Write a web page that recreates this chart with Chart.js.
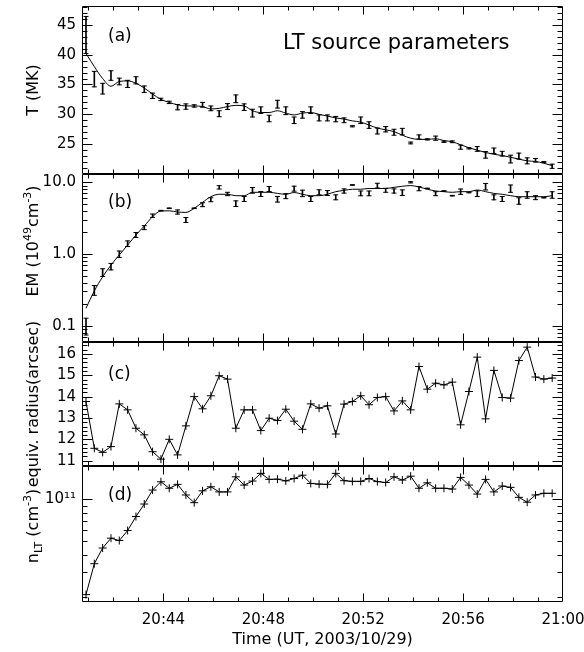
<!DOCTYPE html>
<html>
<head>
<meta charset="utf-8">
<script src="https://cdn.jsdelivr.net/npm/chart.js@4/dist/chart.umd.min.js"></script>
<style>
html,body{margin:0;padding:0;background:#fff;}
#wrap{position:relative;width:584px;height:652px;overflow:hidden;background:#fff;}
#wrap canvas{position:absolute;left:0;top:0;}
</style>
</head>
<body>
<div id="wrap">
<canvas id="cd" width="584" height="652"></canvas>
<canvas id="cc" width="584" height="652"></canvas>
<canvas id="cb" width="584" height="652"></canvas>
<canvas id="ca" width="584" height="652"></canvas>
</div>
<script>
// ---------- data ----------
const times = ['20:40:54','20:41:14','20:41:34','20:41:54','20:42:14','20:42:34','20:42:54','20:43:14','20:43:34','20:43:54',
 '20:44:14','20:44:34','20:44:54','20:45:14','20:45:34','20:45:54','20:46:14','20:46:34','20:46:54','20:47:14',
 '20:47:34','20:47:54','20:48:14','20:48:34','20:48:54','20:49:14','20:49:34','20:49:54','20:50:14','20:50:34',
 '20:50:54','20:51:14','20:51:34','20:51:54','20:52:14','20:52:34','20:52:54','20:53:14','20:53:34','20:53:54',
 '20:54:14','20:54:34','20:54:54','20:55:14','20:55:34','20:55:54','20:56:14','20:56:34','20:56:54','20:57:14',
 '20:57:34','20:57:54','20:58:14','20:58:34','20:58:54','20:59:14','20:59:34'];

// (a) temperature, MK
const tempVal = [43.3,35.9,34.3,36.5,35.5,35.1,35.7,34.2,33.1,32.5,
 32.0,31.2,31.3,31.4,31.6,31.0,30.1,31.3,32.6,31.2,
 30.2,30.7,29.3,31.7,30.6,29.0,29.9,30.7,29.4,29.4,
 29.2,29.0,28.0,29.0,28.2,27.2,27.5,27.0,27.1,25.2,
 26.2,25.8,26.0,25.4,25.4,24.5,24.3,24.2,23.2,23.9,
 23.4,22.5,23.0,22.2,22.3,22.0,21.3];
const tempErr = [3.1,1.3,0.9,0.8,0.56,0.6,0.6,0.55,0.45,0.2,
 0.2,0.45,0.45,0.2,0.4,0.4,0.5,0.5,0.65,0.55,
 0.65,0.55,0.55,0.65,0.65,0.55,0.55,0.55,0.5,0.5,
 0.45,0.4,0.1,0.55,0.55,0.5,0.45,0.5,0.55,0.15,
 0.35,0.1,0.35,0.1,0.15,0.35,0.1,0.4,0.55,0.45,
 0.4,0.65,0.5,0.5,0.3,0.1,0.35];
const tempFit = [40.2,38.0,36.0,34.7,35.5,35.6,35.2,34.4,33.4,32.5,
 32.0,31.6,31.4,31.4,31.3,30.9,31.0,31.3,31.5,31.4,
 30.6,30.3,30.3,30.6,30.2,29.9,30.2,30.3,30.0,29.7,
 29.4,29.2,28.9,28.7,28.2,27.7,27.4,27.1,26.5,26.0,
 25.8,25.8,25.9,25.6,25.4,24.9,24.4,24.0,23.6,23.3,
 23.1,22.8,22.5,22.2,22.1,21.8,21.4];

// (b) emission measure, 1e49 cm^-3
const emVal = [0.097,0.31,0.55,0.665,0.99,1.39,1.84,2.33,3.42,4.02,
 4.34,3.85,2.98,4.34,4.87,5.71,8.5,6.87,5.03,5.85,
 7.73,6.87,8.06,5.8,6.4,8.15,7.0,5.85,7.25,7.08,
 6.17,7.56,9.17,7.0,7.0,8.97,7.73,7.56,7.16,10.0,
 8.15,8.2,6.93,7.56,6.5,7.39,7.2,6.93,8.68,6.17,
 5.85,8.15,5.48,6.65,6.1,6.1,6.65];
const emErr = [0.31,0.17,0.13,0.11,0.11,0.095,0.083,0.066,0.055,0.01,
 0.01,0.07,0.083,0.01,0.066,0.066,0.055,0.055,0.095,0.083,
 0.095,0.083,0.083,0.095,0.083,0.083,0.11,0.083,0.083,0.083,
 0.083,0.07,0.01,0.08,0.08,0.08,0.066,0.07,0.095,0.02,
 0.07,0.01,0.066,0.01,0.01,0.09,0.01,0.095,0.11,0.083,
 0.083,0.125,0.11,0.11,0.066,0.01,0.11];
const emFit = [0.175,0.305,0.48,0.70,0.97,1.33,1.84,2.45,3.31,3.98,
 4.0,3.85,3.8,4.34,5.25,6.3,6.8,6.8,6.5,6.5,
 7.25,7.25,7.25,7.0,6.8,7.2,6.8,6.5,6.5,6.8,
 7.4,7.7,8.0,8.0,8.2,8.2,8.2,8.5,8.8,9.0,
 8.6,8.0,7.56,7.4,7.25,7.4,7.4,7.8,7.4,7.0,
 6.8,6.5,6.3,6.3,6.3,6.3,6.5];

// (c) equivalent radius, arcsec
const radius = [13.77,11.58,11.39,11.66,13.66,13.38,12.52,12.21,11.42,11.07,
 12.0,11.27,12.63,14.0,13.43,14.04,14.98,14.82,12.52,13.38,
 13.38,12.41,12.99,12.88,13.41,12.85,12.47,13.66,13.46,13.57,
 12.25,13.65,13.77,14.04,13.62,13.96,14.0,13.33,13.80,13.38,
 15.41,14.35,14.63,14.55,14.68,12.68,14.24,15.85,12.96,15.23,
 13.96,13.93,15.69,16.32,14.92,14.82,14.87];

// (d) LT density, cm^-3
const density = [2.07e10,3.45e10,4.47e10,5.26e10,5.06e10,5.97e10,7.52e10,9.25e10,1.165e11,1.336e11,
 1.2e11,1.28e11,1.074e11,9.46e10,1.15e11,1.23e11,1.13e11,1.13e11,1.45e11,1.265e11,
 1.352e11,1.535e11,1.39e11,1.395e11,1.356e11,1.41e11,1.49e11,1.3e11,1.285e11,1.28e11,
 1.535e11,1.36e11,1.345e11,1.345e11,1.41e11,1.34e11,1.32e11,1.45e11,1.374e11,1.466e11,
 1.2e11,1.314e11,1.2e11,1.2e11,1.185e11,1.436e11,1.265e11,1.09e11,1.39e11,1.13e11,
 1.245e11,1.218e11,1.033e11,9.53e10,1.074e11,1.104e11,1.104e11];

// tick labels
const xTickLabels = ['20:44','20:48','20:52','20:56','21:00'];
const tTickLabels = ['25','30','35','40','45'];
const emTickLabels = ['0.1','1.0','10.0'];
const rTickLabels = ['11','12','13','14','15','16'];
const nTickValues = [1e11];
const nTickLabels = ['10\u00B9\u00B9'];

// ---------- helpers ----------
const FONT = '"DejaVu Sans", sans-serif';
Chart.defaults.font.family = FONT;
Chart.defaults.color = '#000';

const toMin = s => { const p = s.split(':').map(Number); return (p[0]-20)*60 + p[1] + (p[2]||0)/60; };
const tm = times.map(toMin);
const xMajor = xTickLabels.map(toMin);
const xy = arr => arr.map((v,i) => ({x: tm[i], y: v}));

function xTickList() {
  const out = [];
  for (let m = 41; m <= 59; m++) out.push([m, xMajor.includes(m)]);
  return out;
}
function linTicks(majors, min, max, step) {
  const out = majors.map(v => [v, true]);
  const n0 = Math.ceil(min/step - 1e-9), n1 = Math.floor(max/step + 1e-9);
  for (let k = n0; k <= n1; k++) {
    const v = k*step;
    if (!majors.some(m => Math.abs(m - v) < 1e-6)) out.push([v, false]);
  }
  return out;
}
function logTicks(majors, min, max) {
  const out = majors.map(v => [v, true]);
  for (let e = Math.floor(Math.log10(min)); e <= Math.ceil(Math.log10(max)); e++) {
    for (let m = 2; m <= 9; m++) {
      const v = m*Math.pow(10, e);
      if (v >= min && v <= max) out.push([v, false]);
    }
  }
  return out;
}

function richText(ctx, segs, bx, cy, size) {
  const small = Math.round(size*0.68);
  let total = 0;
  segs.forEach(s => { ctx.font = ((s.sup||s.sub)?small:size) + 'px ' + FONT; s.w = ctx.measureText(s.t).width; total += s.w; });
  ctx.save();
  ctx.translate(bx, cy);
  ctx.rotate(-Math.PI/2);
  ctx.textBaseline = 'alphabetic'; ctx.textAlign = 'left'; ctx.fillStyle = '#000';
  let x = -total/2;
  segs.forEach(s => {
    ctx.font = ((s.sup||s.sub)?small:size) + 'px ' + FONT;
    const dy = s.sup ? -size*0.42 : (s.sub ? size*0.22 : 0);
    ctx.fillText(s.t, x, dy);
    x += s.w;
  });
  ctx.restore();
}

const deco = {
  id: 'deco',
  afterDraw(chart, args, o) {
    const {ctx, chartArea: a} = chart;
    const xs = chart.scales.x, ys = chart.scales.y;
    ctx.save();
    ctx.strokeStyle = '#000'; ctx.lineWidth = 1;
    const L = Math.round(a.left)+0.5, R = Math.round(a.right)-0.5, T = Math.round(a.top)+0.5, B = Math.round(a.bottom)-0.5;
    ctx.beginPath();
    ctx.rect(L, T, R-L, B-T);
    xTickList().forEach(([v, major]) => {
      const px = Math.round(xs.getPixelForValue(v)) + 0.5;
      const len = major ? 8 : 4;
      ctx.moveTo(px, B); ctx.lineTo(px, B - len);
      ctx.moveTo(px, T); ctx.lineTo(px, T + len);
    });
    o.yTicks.forEach(([v, major]) => {
      const py = Math.round(ys.getPixelForValue(v)) + 0.5;
      const len = major ? 10 : 5;
      ctx.moveTo(L, py); ctx.lineTo(L + len, py);
      ctx.moveTo(R, py); ctx.lineTo(R - len, py);
    });
    ctx.stroke();
    ctx.fillStyle = '#000';
    ctx.textBaseline = 'alphabetic'; ctx.textAlign = 'left';
    ctx.font = '17px ' + FONT;
    ctx.fillText(o.label, 108, o.labelY);
    if (o.note) { ctx.font = '21px ' + FONT; ctx.fillText(o.note, 283, 48.5); }
    richText(ctx, o.title, 38, o.titleY, 16);
    ctx.restore();
  }
};

function errorSets(lo, hi) {
  return [
    { type: 'bar', data: tm.map((t,i) => ({x: t, y: [lo[i], hi[i]]})), backgroundColor: '#000', borderWidth: 0, barThickness: 1 },
    { data: xy(lo), showLine: false, pointStyle: 'line', pointRadius: 2.5, pointBorderWidth: 1, pointBorderColor: '#000', borderColor: '#000' },
    { data: xy(hi), showLine: false, pointStyle: 'line', pointRadius: 2.5, pointBorderWidth: 1, pointBorderColor: '#000', borderColor: '#000' }
  ];
}

function makeOptions(p) {
  const last = !!p.showX;
  return {
    responsive: false, animation: false, devicePixelRatio: 1,
    layout: { padding: { left: 0, right: 21, top: p.top, bottom: p.bottom } },
    plugins: { legend: { display: false }, tooltip: { enabled: false }, deco: p.deco },
    events: [],
    scales: {
      x: {
        type: 'linear', min: 40.74, max: 60, offset: false, display: last,
        grid: { display: false, drawTicks: false }, border: { display: false },
        afterBuildTicks: s => { s.ticks = xMajor.map(v => ({value: v})); },
        afterFit: s => { if (last) s.height = 50; else s.height = 0; s.paddingLeft = 0; s.paddingRight = 0; },
        ticks: { autoSkip: false, maxRotation: 0, padding: 9, font: { size: 15 },
          callback: v => { const i = xMajor.findIndex(m => Math.abs(m - v) < 1e-6); return i >= 0 ? xTickLabels[i] : ''; } },
        title: { display: last, text: 'Time (UT, 2003/10/29)', font: { size: 16 }, padding: { top: 0, bottom: 3 } }
      },
      y: {
        type: p.yType, min: p.min, max: p.max,
        grid: { display: false, drawTicks: false }, border: { display: false },
        afterFit: s => { s.width = 82; s.paddingTop = 0; s.paddingBottom = 0; },
        afterBuildTicks: s => { s.ticks = p.tickVals.map(v => ({value: v})); },
        ticks: { autoSkip: false, padding: 6, font: { size: 15 },
          callback: v => { const i = p.tickVals.findIndex(m => Math.abs(m - v) <= Math.abs(m)*1e-6); return i >= 0 ? p.tickLabels[i] : ''; } }
      }
    }
  };
}

// ---------- panel (a) ----------
const tLo = tempVal.map((v,i) => v - tempErr[i]);
const tHi = tempVal.map((v,i) => v + tempErr[i]);
const tVals = tTickLabels.map(Number);
new Chart(document.getElementById('ca'), {
  type: 'line',
  data: { datasets: [
    { data: xy(tempFit), borderColor: '#000', borderWidth: 1, pointRadius: 0, cubicInterpolationMode: 'monotone' },
    ...errorSets(tLo, tHi)
  ]},
  options: makeOptions({ top: 6, bottom: 478, yType: 'linear', min: 20, max: 48.15, tickVals: tVals, tickLabels: tTickLabels,
    deco: { yTicks: linTicks(tVals, 20, 48.15, 1), label: '(a)', labelY: 40.5, note: 'LT source parameters',
      title: [{t: 'T (MK)'}], titleY: 90 } }),
  plugins: [deco]
});

// ---------- panel (b) ----------
const eLo = emVal.map((v,i) => v/(1 + emErr[i]));
const eHi = emVal.map((v,i) => v*(1 + emErr[i]));
const eVals = emTickLabels.map(Number);
new Chart(document.getElementById('cb'), {
  type: 'line',
  data: { datasets: [
    { data: xy(emFit), borderColor: '#000', borderWidth: 1, pointRadius: 0, cubicInterpolationMode: 'monotone' },
    ...errorSets(eLo, eHi)
  ]},
  options: makeOptions({ top: 174, bottom: 310, yType: 'logarithmic', min: 0.0592, max: 13.05, tickVals: eVals, tickLabels: emTickLabels,
    deco: { yTicks: logTicks(eVals, 0.0592, 13.05), label: '(b)', labelY: 207,
      title: [{t: 'EM (10'}, {t: '49', sup: true}, {t: 'cm'}, {t: '-3', sup: true}, {t: ')'}], titleY: 241 } }),
  plugins: [deco]
});

// ---------- panel (c) ----------
const rVals = rTickLabels.map(Number);
new Chart(document.getElementById('cc'), {
  type: 'line',
  data: { datasets: [
    { data: xy(radius), borderColor: '#000', borderWidth: 1, tension: 0, pointStyle: 'cross', pointRadius: 4, pointBorderWidth: 1, pointBorderColor: '#000' }
  ]},
  options: makeOptions({ top: 342, bottom: 186, yType: 'linear', min: 10.75, max: 16.56, tickVals: rVals, tickLabels: rTickLabels,
    deco: { yTicks: linTicks(rVals, 10.75, 16.56, 0.2), label: '(c)', labelY: 378.5,
      title: [{t: 'equiv. radius(arcsec)'}], titleY: 404 } }),
  plugins: [deco]
});

// ---------- panel (d) ----------
new Chart(document.getElementById('cd'), {
  type: 'line',
  data: { datasets: [
    { data: xy(density), borderColor: '#000', borderWidth: 1, tension: 0, pointStyle: 'cross', pointRadius: 4, pointBorderWidth: 1, pointBorderColor: '#000' }
  ]},
  options: makeOptions({ top: 466, bottom: 0, showX: true, yType: 'logarithmic', min: 1.832e10, max: 1.734e11, tickVals: nTickValues, tickLabels: nTickLabels,
    deco: { yTicks: logTicks(nTickValues, 1.832e10, 1.734e11), label: '(d)', labelY: 499.5,
      title: [{t: 'n'}, {t: 'LT', sub: true}, {t: ' (cm'}, {t: '-3', sup: true}, {t: ')'}], titleY: 526 } }),
  plugins: [deco]
});
</script>
</body>
</html>
